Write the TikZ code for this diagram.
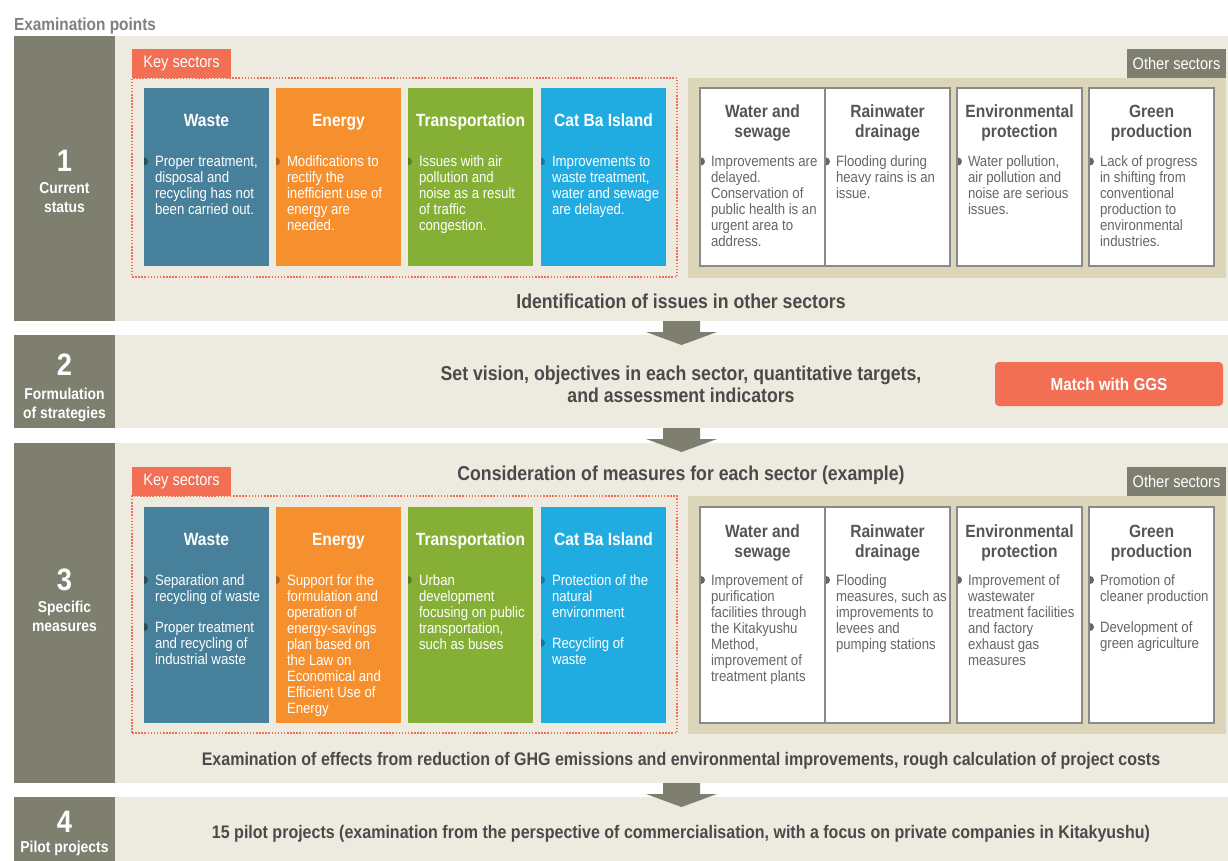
\documentclass[tikz,border=0pt]{standalone}
\usepackage{fontspec}
\setmainfont{Liberation Sans}[FakeStretch=0.88]
\definecolor{dk}{HTML}{7E7F6E}
\definecolor{bgc}{HTML}{EDEBE0}
\definecolor{wastec}{HTML}{47809A}
\definecolor{energyc}{HTML}{F68F2D}
\definecolor{transc}{HTML}{85B035}
\definecolor{catbac}{HTML}{21ACE1}
\definecolor{keyred}{HTML}{F26F53}
\definecolor{otherbg}{HTML}{DBD5BA}
\definecolor{cardline}{HTML}{8A8A8A}
\definecolor{titlegray}{HTML}{555555}
\definecolor{bodygray}{HTML}{666666}
\definecolor{maintext}{HTML}{4A4A4A}
\definecolor{exgray}{HTML}{808080}
\newcommand\fbody{\fontsize{15}{16}\selectfont}
\newcommand\ftitle{\fontsize{17.7}{20}\selectfont\bfseries}
\newcommand\fmain{\fontsize{20.1}{20}\selectfont\bfseries}
\newcommand\fmainsm{\fontsize{18.2}{20}\selectfont\bfseries}
\newcommand\fnum{\fontsize{31}{34}\selectfont\bfseries}
\newcommand\flab{\fontsize{15.8}{19}\selectfont\bfseries}
\newcommand\ftag{\fontsize{16.6}{18}\selectfont}
\tikzset{
  base/.style={inner sep=0pt,outer sep=0pt},
  leftbox/.style={base,fill=dk,anchor=north west,minimum width=101pt},
  rowbg/.style={base,fill=bgc,anchor=north west,minimum width=1113pt},
  tile/.style={base,minimum width=125pt},
  card/.style={base,fill=white,draw=cardline,line width=1.5pt,minimum width=125pt},
  tiletitle/.style={base,text=white,font=\ftitle},
  cardtitle/.style={base,text=titlegray,font=\ftitle,align=center,anchor=north},
  tilebody/.style={base,text=white,font=\fbody,align=left,anchor=north west},
  cardbody/.style={base,text=bodygray,font=\fbody,align=left,anchor=north west},
  num/.style={base,text=white,font=\fnum,anchor=base},
  lab/.style={base,text=white,font=\flab,align=center,anchor=north},
  maintxt/.style={base,text=maintext,font=\fmain,align=center},
  maintxtsm/.style={base,text=maintext,font=\fmainsm,align=center},
  keytag/.style={base,fill=keyred,text=white,font=\ftag,minimum width=99pt,minimum height=29pt,anchor=north west},
  othertag/.style={base,fill=dk,text=white,font=\ftag,minimum width=99pt,minimum height=29pt,anchor=north west},
  keybox/.style={base,draw=keyred,line width=1.5pt,dash pattern=on 1.5pt off 1.6pt,minimum width=545pt,anchor=north west},
  otherbox/.style={base,fill=otherbg,minimum width=538pt,anchor=north west},
  blockarrow/.style={fill=dk},
}
\newcommand\bul[3]{\fill[#1] (#2,#3-4) arc[start angle=-90,end angle=90,radius=4] -- cycle;}
\newcommand\ktile[6]{%
  \node[tile,fill=#5,minimum height=#4pt,anchor=north west] (#1) at (#2,#3) {};
  \node[tiletitle,anchor=base] (#1-t) at (#2+62.5,#3+38.5) {#6};}
\newcommand\ocard[5]{%
  \node[card,minimum height=#4pt,anchor=north west] (#1) at (#2,#3) {};
  \node[cardtitle] (#1-t) at (#2+62.5,#3+16) {\strut #5};}
\newcommand\barrow[1]{%
  \fill[blockarrow] (663,#1) -- (700,#1) -- (700,#1+11) -- (717,#1+11) -- (681.5,#1+24) -- (646,#1+11) -- (663,#1+11) -- cycle;}
\begin{document}
\begin{tikzpicture}[x=1pt,y=-1pt]
\useasboundingbox (0,0) rectangle (1228,861);
\fill[white] (0,0) rectangle (1228,861);

% header
\node[base,text=exgray,font=\fontsize{17.5}{20}\selectfont\bfseries,anchor=base west] (hdr) at (14,30.5) {Examination points};

% ===== rows =====
\node[leftbox,minimum height=285pt] (l1) at (14,36) {};
\node[rowbg,minimum height=285pt] (r1) at (115,36) {};
\node[leftbox,minimum height=93pt] (l2) at (14,335) {};
\node[rowbg,minimum height=93pt] (r2) at (115,335) {};
\node[leftbox,minimum height=340pt] (l3) at (14,443) {};
\node[rowbg,minimum height=340pt] (r3) at (115,443) {};
\node[leftbox,minimum height=64pt] (l4) at (14,797) {};
\node[rowbg,minimum height=64pt] (r4) at (115,797) {};

% left labels
\node[num] (n1) at (64.5,172) {1};
\node[lab] (t1) at (64.5,179.7) {\strut Current\\status};
\node[num] (n2) at (64.5,375) {2};
\node[lab] (t2) at (64.5,385.7) {\strut Formulation\\of strategies};
\node[num] (n3) at (64.5,590) {3};
\node[lab] (t3) at (64.5,598.7) {\strut Specific\\measures};
\node[num] (n4) at (64.5,832) {4};
\node[base,text=white,font=\flab,anchor=base] (t4) at (64.5,852) {Pilot projects};

% ===== row 1 =====
\node[keytag] (k1tag) at (132,49) {Key sectors};
\node[keybox,minimum height=199pt] (k1box) at (132,78) {};
\node[othertag] (o1tag) at (1127,49) {Other sectors};
\node[otherbox,minimum height=200pt] (o1box) at (688,78) {};

\ktile{w1}{144}{88}{178}{wastec}{Waste}
\ktile{e1}{276}{88}{178}{energyc}{Energy}
\ktile{tr1}{408}{88}{178}{transc}{Transportation}
\ktile{c1}{541}{88}{178}{catbac}{Cat Ba Island}
\node[tilebody] (w1-b) at (155,155.3) {\strut Proper treatment,\\disposal and\\recycling has not\\been carried out.};
\node[tilebody] (e1-b) at (287,155.3) {\strut Modifications to\\rectify the\\inefficient use of\\energy are\\needed.};
\node[tilebody] (tr1-b) at (419,155.3) {\strut Issues with air\\pollution and\\noise as a result\\of traffic\\congestion.};
\node[tilebody] (c1-b) at (552,155.3) {\strut Improvements to\\waste treatment,\\water and sewage\\are delayed.};
\bul{wastec!60!black}{144}{161.5}
\bul{energyc!70!black}{276}{161.5}
\bul{transc!70!black}{408}{161.5}
\bul{catbac!70!black}{541}{161.5}

\ocard{ws1}{700}{88}{178}{Water and\\sewage}
\ocard{rd1}{825}{88}{178}{Rainwater\\drainage}
\ocard{ep1}{957}{88}{178}{Environmental\\protection}
\ocard{gp1}{1089}{88}{178}{Green\\production}
\node[cardbody] (ws1-b) at (711,155.3) {\strut Improvements are\\delayed.\\Conservation of\\public health is an\\urgent area to\\address.};
\node[cardbody] (rd1-b) at (836,155.3) {\strut Flooding during\\heavy rains is an\\issue.};
\node[cardbody] (ep1-b) at (968,155.3) {\strut Water pollution,\\air pollution and\\noise are serious\\issues.};
\node[cardbody] (gp1-b) at (1100,155.3) {\strut Lack of progress\\in shifting from\\conventional\\production to\\environmental\\industries.};
\bul{bodygray}{701}{161.5}
\bul{bodygray}{826}{161.5}
\bul{bodygray}{958}{161.5}
\bul{bodygray}{1090}{161.5}

\node[maintxt,anchor=base] (m1) at (681,308) {Identification of issues in other sectors};

% ===== row 2 =====
\node[maintxt,anchor=north] (m2) at (681,366) {\strut Set vision, objectives in each sector, quantitative targets,\\and assessment indicators};
\node[base,fill=keyred,rounded corners=4pt,minimum width=228pt,minimum height=44pt,anchor=north west,text=white,font=\fontsize{17.3}{20}\selectfont\bfseries] (ggs) at (995,362) {Match with GGS};

% ===== row 3 =====
\node[maintxt,anchor=base] (m3) at (681,480) {Consideration of measures for each sector (example)};
\node[keytag] (k3tag) at (132,467) {Key sectors};
\node[keybox,minimum height=237pt] (k3box) at (132,496) {};
\node[othertag] (o3tag) at (1127,467) {Other sectors};
\node[otherbox,minimum height=238pt] (o3box) at (688,496) {};

\ktile{w3}{144}{507}{216}{wastec}{Waste}
\ktile{e3}{276}{507}{216}{energyc}{Energy}
\ktile{tr3}{408}{507}{216}{transc}{Transportation}
\ktile{c3}{541}{507}{216}{catbac}{Cat Ba Island}
\node[tilebody] (w3-b) at (155,573.8) {\strut Separation and\\recycling of waste\\[15pt]Proper treatment\\and recycling of\\industrial waste};
\node[tilebody] (e3-b) at (287,573.8) {\strut Support for the\\formulation and\\operation of\\energy-savings\\plan based on\\the Law on\\Economical and\\Efficient Use of\\Energy};
\node[tilebody] (tr3-b) at (419,573.8) {\strut Urban\\development\\focusing on public\\transportation,\\such as buses};
\node[tilebody] (c3-b) at (552,573.8) {\strut Protection of the\\natural\\environment\\[15pt]Recycling of\\waste};
\bul{wastec!60!black}{144}{580}
\bul{wastec!60!black}{144}{627}
\bul{energyc!70!black}{276}{580}
\bul{transc!70!black}{408}{580}
\bul{catbac!70!black}{541}{580}
\bul{catbac!70!black}{541}{643}

\ocard{ws3}{700}{507}{216}{Water and\\sewage}
\ocard{rd3}{825}{507}{216}{Rainwater\\drainage}
\ocard{ep3}{957}{507}{216}{Environmental\\protection}
\ocard{gp3}{1089}{507}{216}{Green\\production}
\node[cardbody] (ws3-b) at (711,573.8) {\strut Improvement of\\purification\\facilities through\\the Kitakyushu\\Method,\\improvement of\\treatment plants};
\node[cardbody] (rd3-b) at (836,573.8) {\strut Flooding\\measures, such as\\improvements to\\levees and\\pumping stations};
\node[cardbody] (ep3-b) at (968,573.8) {\strut Improvement of\\wastewater\\treatment facilities\\and factory\\exhaust gas\\measures};
\node[cardbody] (gp3-b) at (1100,573.8) {\strut Promotion of\\cleaner production\\[15pt]Development of\\green agriculture};
\bul{bodygray}{701}{580}
\bul{bodygray}{826}{580}
\bul{bodygray}{958}{580}
\bul{bodygray}{1090}{580}
\bul{bodygray}{1090}{627}

\node[maintxtsm,anchor=base] (m3b) at (681,765) {Examination of effects from reduction of GHG emissions and environmental improvements, rough calculation of project costs};

% ===== row 4 =====
\node[maintxtsm,anchor=base] (m4) at (681,838) {15 pilot projects (examination from the perspective of commercialisation, with a focus on private companies in Kitakyushu)};

% ===== block arrows =====
\barrow{321}
\barrow{428}
\barrow{783}
\end{tikzpicture}
\end{document}
